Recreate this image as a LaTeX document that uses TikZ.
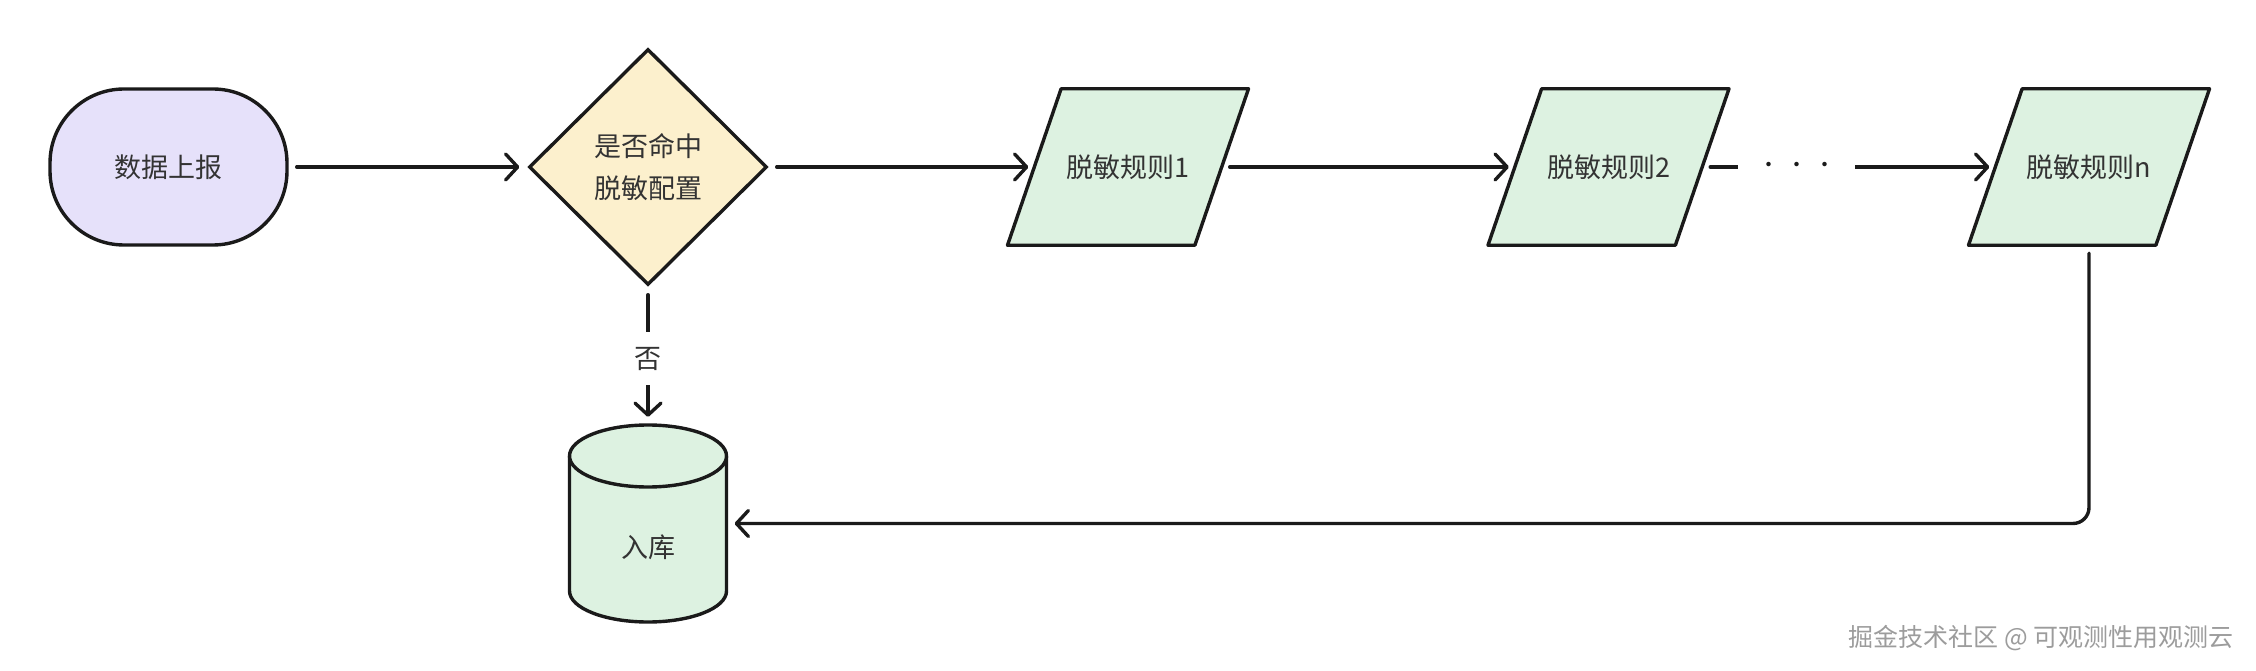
\documentclass[tikz,border=0pt]{standalone}
\usepackage{fontspec}
\newfontfamily\cjk{Noto Sans CJK SC}
\usetikzlibrary{arrows.meta,shapes.geometric,backgrounds}
\definecolor{lav}{HTML}{E6E1FA}
\definecolor{yel}{HTML}{FCF0CD}
\definecolor{grn}{HTML}{DDF2E1}
\definecolor{ink}{HTML}{1A1A1A}
\definecolor{txt}{HTML}{333333}
\definecolor{wmark}{HTML}{9C9C9C}
\tikzset{
  shapebox/.style={draw=ink, line width=3.4pt, text=txt, font=\cjk\fontsize{27}{42}\selectfont, align=center, inner sep=0pt},
  para/.style={text=txt, font=\cjk\fontsize{27}{34}\selectfont, inner sep=0pt, minimum width=187pt, minimum height=156pt},
  paraline/.style={draw=ink, line width=3.4pt, line join=round, fill=grn},
  conn/.style={draw=ink, line width=3.4pt, line cap=round, line join=round, -{Straight Barb[length=12pt,width=26pt,line cap=round,line join=round]}, shorten <=8pt, shorten >=8pt},
  lbl/.style={fill=white, text=txt, font=\cjk\fontsize{27}{34}\selectfont}
}
\newcommand{\paradraw}[1]{%
  \draw[paraline] ([xshift=-26.8pt]#1.south west) -- ([xshift=26.8pt]#1.north west) -- ([xshift=26.8pt]#1.north east) -- ([xshift=-26.8pt]#1.south east) -- cycle;}
\begin{document}
\begin{tikzpicture}[x=1pt,y=-1pt]
\useasboundingbox (0,0) rectangle (2256,671);

% cylinder body
\node[minimum width=157pt, minimum height=197pt, inner sep=0pt] (db) at (648,523.5) {};
\node[text=txt, font=\cjk\fontsize{27}{34}\selectfont] (dbl) at (648,547) {入库};

\node[shapebox, fill=lav, rounded corners=74pt, minimum width=237pt, minimum height=156pt] (src) at (168.5,167) {数据上报};
\node[shapebox, fill=yel, diamond, minimum width=238pt, minimum height=236pt] (dia) at (648,167) {是否命中\\脱敏配置};
\node[para] (r1) at (1128,167) {脱敏规则1};
\node[para] (r2) at (1608.5,167) {脱敏规则2};
\node[para] (rn) at (2089,167) {脱敏规则n};

\begin{scope}[on background layer]
\fill[white] (0,0) rectangle (2256,671);
\paradraw{r1}
\paradraw{r2}
\paradraw{rn}
\fill[grn] (648,591) ellipse [x radius=78.5, y radius=31];
\fill[grn] (569.5,456) rectangle (726.5,591);
\draw[ink, line width=3.4pt, line join=round] (569.5,456) -- (569.5,591) arc [start angle=180, end angle=0, x radius=78.5, y radius=31] -- (726.5,456);
\draw[ink, line width=3.4pt, fill=grn] (648,456) ellipse [x radius=78.5, y radius=31];
\end{scope}

\draw[conn] (src) -- (dia);
\draw[conn, shorten >=6pt] (dia) -- (r1);
\draw[conn, shorten >=6pt] (r1) -- (r2);
\draw[conn, shorten >=6pt] (r2) -- node[pos=0.322, fill=white, text=ink, inner xsep=16.5pt, inner ysep=4pt, font=\cjk\fontsize{21}{22}\selectfont] (dots) {\makebox[28pt]{•}\makebox[28pt]{•}\makebox[28pt]{•}} (rn);
\draw[conn] (dia) -- node[lbl, pos=0.52, inner xsep=4pt, inner ysep=15pt] (no) {否} (db);
\draw[conn, rounded corners=16pt] (rn.center |- rn.south) |- (db.east);

\node[text=wmark, font=\cjk\fontsize{25}{30}\selectfont, anchor=east] (wm) at (2237,638) {掘金技术社区 @ 可观测性用观测云};
\end{tikzpicture}
\end{document}
